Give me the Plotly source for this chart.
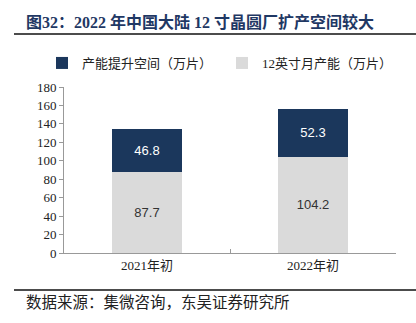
import plotly.graph_objects as go

categories = ["2021年初", "2022年初"]
capacity = [87.7, 104.2]
expansion = [46.8, 52.3]
series_names = ["产能提升空间（万片）", "12英寸月产能（万片）"]
y_ticks = [0, 20, 40, 60, 80, 100, 120, 140, 160, 180]

NAVY = "#1b375c"
GRAY = "#dadada"
FONT = "Liberation Serif, Noto Sans CJK SC, serif"

L, R, T, B = 64, 20, 87, 70
PW = 416 - L - R
PH = 323 - T - B


def px_x(x):
    return (x - L) / PW


def px_y(y):
    return (323 - B - y) / PH


fig = go.Figure()
fig.add_trace(go.Bar(
    x=categories, y=capacity, name=series_names[1],
    marker=dict(color=GRAY, line=dict(width=0)),
    text=[f"{v:.1f}" for v in capacity], textposition="inside",
    insidetextanchor="middle",
    textfont=dict(color="#333333", size=13, family="Liberation Sans, Arial"),
))
fig.add_trace(go.Bar(
    x=categories, y=expansion, name=series_names[0],
    marker=dict(color=NAVY, line=dict(width=0)),
    text=[f"{v:.1f}" for v in expansion], textposition="inside",
    insidetextanchor="middle",
    textfont=dict(color="white", size=13, family="Liberation Sans, Arial"),
))

fig.update_layout(
    barmode="stack",
    bargap=0.58,
    width=416, height=323,
    margin=dict(l=L, r=R, t=T, b=B, autoexpand=False),
    paper_bgcolor="white", plot_bgcolor="white",
    font=dict(family=FONT, size=13, color="#222222"),
    legend=dict(
        orientation="h",
        x=px_x(42), xanchor="left", y=px_y(63),
        yanchor="middle", traceorder="reversed",
        entrywidth=135, entrywidthmode="pixels",
        font=dict(size=13, family=FONT, color="#222222"),
    ),
)
fig.update_xaxes(
    showline=True, linecolor="#999999", linewidth=1,
    ticks="inside", tickson="boundaries", ticklen=4, tickcolor="#999999",
    tickfont=dict(size=13, family=FONT, color="#222222"),
    showgrid=False,
)
fig.update_yaxes(
    range=[0, 180], tickvals=y_ticks,
    showline=True, linecolor="#999999", linewidth=1,
    ticks="outside", ticklen=4, tickcolor="#999999",
    tickfont=dict(size=13, family=FONT, color="#222222"),
    showgrid=False, zeroline=False,
)

fig.add_annotation(
    text="<b>图32：2022 年中国大陆 12 寸晶圆厂扩产空间较大</b>",
    xref="paper", yref="paper", x=px_x(24), xanchor="left",
    y=px_y(22), yanchor="middle", showarrow=False,
    font=dict(size=16, color="#1f3864", family=FONT),
)
fig.add_annotation(
    text="数据来源：集微咨询，东吴证券研究所",
    xref="paper", yref="paper", x=px_x(24), xanchor="left",
    y=px_y(302), yanchor="middle", showarrow=False,
    font=dict(size=15.5, color="#222222", family=FONT),
)
for yy in (34, 290):
    fig.add_shape(
        type="line", xref="paper", yref="paper",
        x0=px_x(14), x1=px_x(416),
        y0=px_y(yy), y1=px_y(yy),
        line=dict(color="#111111", width=1.5),
    )

fig.write_html("out.html")
